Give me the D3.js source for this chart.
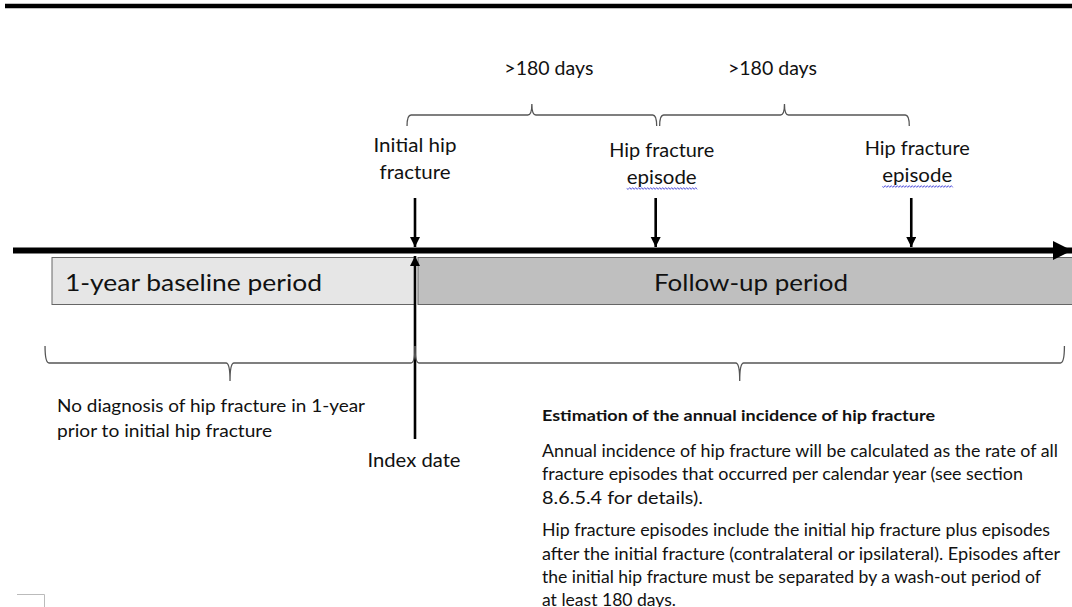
<!DOCTYPE html>
<html>
<head>
<meta charset="utf-8">
<title>Hip fracture study design</title>
<style>
  body { margin: 0; background: #fff; }
  svg { display: block; font-family: Lato, "Open Sans", sans-serif; }
  .lbl { fill: #111; }
  .brace { fill: none; stroke: #555; stroke-width: 1.3; }
</style>
</head>
<body>
<svg id="chart" width="1072" height="607"></svg>
<script src="https://d3js.org/d3.v7.min.js"></script>
<script>
// timeline in days, index date = 0
const periods = [
  { label: "1-year baseline period", start: -365, end: 0, fill: "#e6e6e6", anchor: "start" },
  { label: "Follow-up period", start: 3, end: 665, fill: "#bfbfbf", anchor: "middle" }
];
const events = [
  { lines: ["Initial hip", "fracture"], day: 0, wavy: false },
  { lines: ["Hip fracture", "episode"], day: 242, wavy: true },
  { lines: ["Hip fracture", "episode"], day: 499, wavy: true }
];
const gaps = [
  { label: ">180 days", from: -8, to: 243 },
  { label: ">180 days", from: 246, to: 497 }
];
const spans = [
  { from: -372, to: 0, lines: ["No diagnosis of hip fracture in 1-year", "prior to initial hip fracture"] },
  { from: 0, to: 653, lines: [] }
];
const noteTitle = "Estimation of the annual incidence of hip fracture";
const noteParas = [
  ["Annual incidence of hip fracture will be calculated as the rate of all",
   "fracture episodes that occurred per calendar year (see section",
   "8.6.5.4 for details)."],
  ["Hip fracture episodes include the initial hip fracture plus episodes",
   "after the initial fracture (contralateral or ipsilateral). Episodes after",
   "the initial hip fracture must be separated by a wash-out period of",
   "at least 180 days."]
];

// rendered widths of the original (Calibri) texts, used to stretch the substitute font
const textWidth = {
  "1-year baseline period": 257, "Follow-up period": 194,
  "Initial hip": 83, "fracture": 71, "Hip fracture": 105, "episode": 70,
  ">180 days": 89, "Index date": 93,
  "No diagnosis of hip fracture in 1-year": 308, "prior to initial hip fracture": 215,
  "Estimation of the annual incidence of hip fracture": 393,
  "Annual incidence of hip fracture will be calculated as the rate of all": 516,
  "fracture episodes that occurred per calendar year (see section": 481,
  "8.6.5.4 for details).": 161,
  "Hip fracture episodes include the initial hip fracture plus episodes": 508,
  "after the initial fracture (contralateral or ipsilateral). Episodes after": 518,
  "the initial hip fracture must be separated by a wash-out period of": 499,
  "at least 180 days.": 134
};
function fit(t) {
  const w = textWidth[t.text()];
  if (w) t.attr("textLength", w).attr("lengthAdjust", "spacingAndGlyphs");
  return t;
}

const svg = d3.select("#chart");
const x = d3.scaleLinear().domain([-365, 0]).range([52, 415]);
const axisY = 250.5;

const defs = svg.append("defs");
defs.append("marker").attr("id", "head").attr("viewBox", "0 0 10 10")
  .attr("refX", 10).attr("refY", 5).attr("markerWidth", 4).attr("markerHeight", 4)
  .attr("markerUnits", "strokeWidth").attr("orient", "auto")
  .append("path").attr("d", "M0,0L10,5L0,10Z").attr("fill", "#000");
defs.append("marker").attr("id", "bighead").attr("viewBox", "0 0 10 10")
  .attr("refX", 10).attr("refY", 5).attr("markerWidth", 3.2).attr("markerHeight", 3.6)
  .attr("markerUnits", "strokeWidth").attr("orient", "auto")
  .append("path").attr("d", "M0,0L10,5L0,10Z").attr("fill", "#000");

// top rule
svg.append("line").attr("x1", 5).attr("x2", 1072).attr("y1", 6).attr("y2", 6)
  .attr("stroke", "#000").attr("stroke-width", 4.5);

// period boxes
const pg = svg.selectAll("g.period").data(periods).join("g").attr("class", "period");
pg.append("rect")
  .attr("x", d => x(d.start)).attr("y", 257.5)
  .attr("width", d => x(d.end) - x(d.start)).attr("height", 47)
  .attr("fill", d => d.fill).attr("stroke", "#666").attr("stroke-width", 1);
pg.append("text").attr("class", "lbl")
  .attr("x", d => d.anchor === "start" ? x(d.start) + 13 : (x(d.start) + 1072) / 2 + 6)
  .attr("y", 291).attr("text-anchor", d => d.anchor)
  .style("font-size", "24px").text(d => d.label)
  .each(function() { fit(d3.select(this)); });

// main timeline
svg.append("line").attr("x1", 13).attr("x2", 1072).attr("y1", axisY).attr("y2", axisY)
  .attr("stroke", "#000").attr("stroke-width", 6).attr("marker-end", "url(#bighead)");

// index date line with upward arrow
svg.append("line").attr("x1", x(0)).attr("x2", x(0)).attr("y1", 439).attr("y2", 256)
  .attr("stroke", "#000").attr("stroke-width", 2.6).attr("marker-end", "url(#head)");

// event arrows and labels
const eg = svg.selectAll("g.event").data(events).join("g").attr("class", "event");
eg.append("line").attr("x1", d => x(d.day)).attr("x2", d => x(d.day))
  .attr("y1", 198).attr("y2", 247)
  .attr("stroke", "#000").attr("stroke-width", 2.6).attr("marker-end", "url(#head)");
const labelTop = [152, 157, 155];
eg.each(function(d, i) {
  const g = d3.select(this);
  const cx = x(d.day) + (i === 0 ? 0 : 6);
  d.lines.forEach((s, j) => {
    const t = fit(g.append("text").attr("class", "lbl").attr("x", cx)
      .attr("y", labelTop[i] + j * 26.5).attr("text-anchor", "middle")
      .style("font-size", "19.5px").text(s));
    if (d.wavy && j === 1) {
      const b = t.node().getBBox();
      const y0 = labelTop[i] + j * 26.5 + 5;
      let p = "M" + b.x + "," + y0;
      for (let k = 0, xx = b.x; xx < b.x + b.width; k++) {
        xx += 1.5;
        p += "L" + xx + "," + (y0 + (k % 2 ? -0.9 : 0.9));
      }
      g.append("path").attr("d", p).attr("fill", "none")
        .attr("stroke", "#3a3ad6").attr("stroke-width", 0.8);
    }
  });
});

// brace path: dir = +1 tip points up (ends hang down), -1 tip points down
function brace(x0, x1, y, dir, endLen, tipLen) {
  const m = (x0 + x1) / 2, r = 4;
  const ye = y + dir * endLen, yt = y - dir * tipLen;
  return `M${x0},${ye} Q${x0},${y} ${x0 + r},${y} L${m - r},${y} Q${m},${y} ${m},${yt}` +
         ` Q${m},${y} ${m + r},${y} L${x1 - r},${y} Q${x1},${y} ${x1},${ye}`;
}

// top gap braces
const gapLabelShift = [17, -12];
const gg = svg.selectAll("g.gap").data(gaps).join("g").attr("class", "gap");
gg.append("path").attr("class", "brace")
  .attr("d", d => brace(x(d.from), x(d.to), 115, 1, 11, 11));
gg.append("text").attr("class", "lbl")
  .attr("x", (d, i) => (x(d.from) + x(d.to)) / 2 + gapLabelShift[i]).attr("y", 75)
  .attr("text-anchor", "middle").style("font-size", "19.5px").text(d => d.label)
  .each(function() { fit(d3.select(this)); });

// bottom span braces
const sg = svg.selectAll("g.span").data(spans).join("g").attr("class", "span");
sg.append("path").attr("class", "brace")
  .attr("d", d => brace(x(d.from), x(d.to), 363, -1, 17, 18));
sg.each(function(d) {
  d.lines.forEach((s, j) => {
    fit(d3.select(this).append("text").attr("class", "lbl")
      .attr("x", 57).attr("y", 412 + j * 24.5)
      .style("font-size", "18px").text(s));
  });
});

fit(svg.append("text").attr("class", "lbl").attr("x", 414).attr("y", 467)
  .attr("text-anchor", "middle").style("font-size", "18.5px").text("Index date"));

// note block
const nx = 542;
fit(svg.append("text").attr("class", "lbl").attr("x", nx).attr("y", 421)
  .style("font-size", "15.5px").style("font-weight", "bold").text(noteTitle));
let ny = 457;
noteParas.forEach(par => {
  par.forEach(s => {
    fit(svg.append("text").attr("class", "lbl").attr("x", nx).attr("y", ny)
      .style("font-size", "17px").text(s));
    ny += 23.3;
  });
  ny += 9.5;
});

// page corner mark
svg.append("path").attr("d", "M17,594.5 L44.5,594.5 L44.5,607")
  .attr("fill", "none").attr("stroke", "#bbb").attr("stroke-width", 1);
</script>
</body>
</html>
